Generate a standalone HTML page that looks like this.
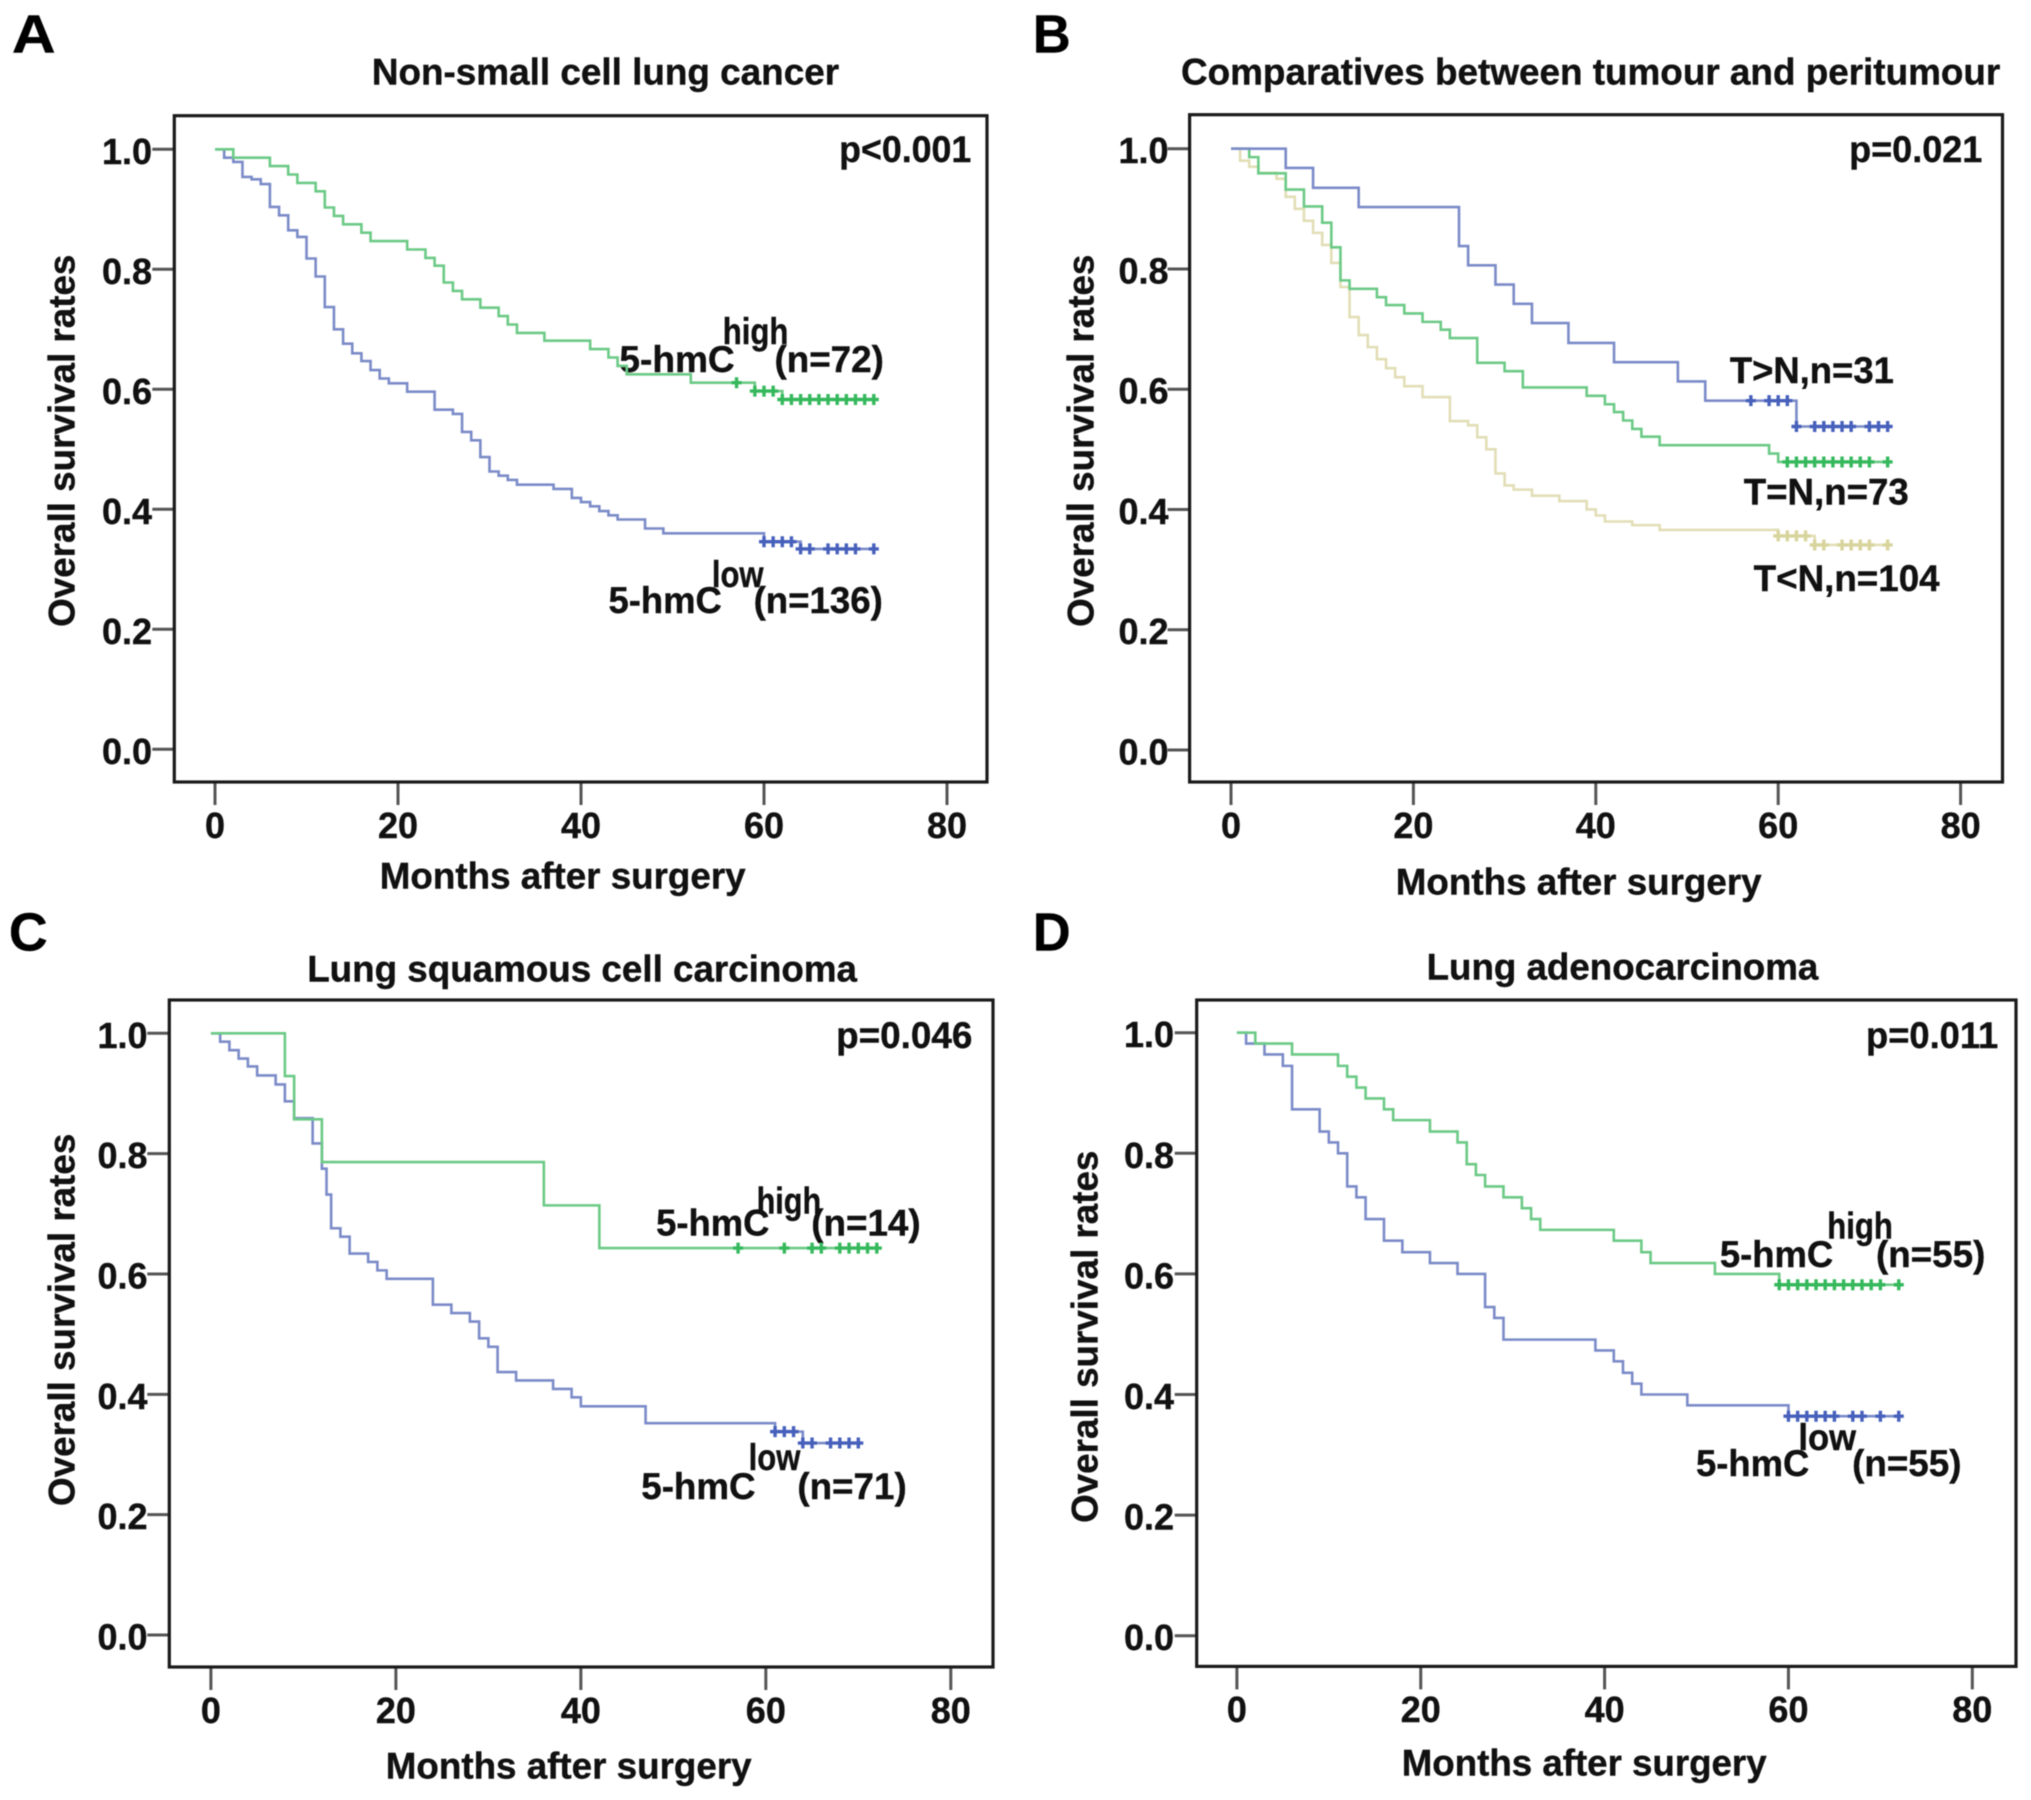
<!DOCTYPE html>
<html lang="en">
<head>
<meta charset="utf-8">
<title>Kaplan-Meier survival curves</title>
<style>
html,body{margin:0;padding:0;background:#fff;}
svg{display:block;filter:blur(0.6px);}
text{font-family:"Liberation Sans",Arial,sans-serif;font-weight:bold;fill:#111;stroke:#111;stroke-width:.4px;font-size:37px;}
.pl{font-size:54px;fill:#000;}
.tick-label{font-size:36px;}
</style>
</head>
<body>
<svg id="figure" xmlns="http://www.w3.org/2000/svg" width="2031" height="1800" viewBox="0 0 2031 1800">
<rect width="2031" height="1800" fill="#fff"/>

<g id="panel-a" transform="scale(.9942,.9949)">
<text class="pl" x="12" y="53" textLength="44" lengthAdjust="spacingAndGlyphs">A</text>
<text x="374" y="85" textLength="470" lengthAdjust="spacingAndGlyphs">Non-small cell lung cancer</text>
<text x="844" y="163" textLength="133" lengthAdjust="spacingAndGlyphs">p&lt;0.001</text>
<text transform="translate(75,443) rotate(-90)" text-anchor="middle">Overall survival rates</text>
<text x="382" y="893" textLength="368" lengthAdjust="spacingAndGlyphs">Months after surgery</text>
<text x="623" y="374" textLength="116" lengthAdjust="spacingAndGlyphs">5-hmC</text>
<text x="727" y="346" textLength="66" lengthAdjust="spacingAndGlyphs">high</text>
<text x="779" y="374" textLength="110" lengthAdjust="spacingAndGlyphs">(n=72)</text>
<text x="612" y="616" textLength="114" lengthAdjust="spacingAndGlyphs">5-hmC</text>
<text x="716" y="590" textLength="52" lengthAdjust="spacingAndGlyphs">low</text>
<text x="758" y="616" textLength="130" lengthAdjust="spacingAndGlyphs">(n=136)</text>
</g>

<g id="panel-b" transform="translate(5.89,0) scale(.9942,.9949)">
<text class="pl" x="1033" y="53" textLength="38" lengthAdjust="spacingAndGlyphs">B</text>
<text x="1182" y="85" textLength="824" lengthAdjust="spacingAndGlyphs">Comparatives between tumour and peritumour</text>
<text x="1854" y="163" textLength="134" lengthAdjust="spacingAndGlyphs">p=0.021</text>
<text transform="translate(1094,443) rotate(-90)" text-anchor="middle">Overall survival rates</text>
<text x="1398" y="899" textLength="368" lengthAdjust="spacingAndGlyphs">Months after surgery</text>
<text x="1734" y="385" textLength="165" lengthAdjust="spacingAndGlyphs">T&gt;N,n=31</text>
<text x="1748" y="507" textLength="166" lengthAdjust="spacingAndGlyphs">T=N,n=73</text>
<text x="1758" y="594" textLength="187" lengthAdjust="spacingAndGlyphs">T&lt;N,n=104</text>
</g>

<g id="panel-c" transform="translate(0,4.59) scale(.9942,.9949)">
<text class="pl" x="9" y="951" textLength="39" lengthAdjust="spacingAndGlyphs">C</text>
<text x="309" y="982" textLength="553" lengthAdjust="spacingAndGlyphs">Lung squamous cell carcinoma</text>
<text x="841" y="1049" textLength="137" lengthAdjust="spacingAndGlyphs">p=0.046</text>
<text transform="translate(75,1322) rotate(-90)" text-anchor="middle">Overall survival rates</text>
<text x="388" y="1783" textLength="368" lengthAdjust="spacingAndGlyphs">Months after surgery</text>
<text x="660" y="1237" textLength="114" lengthAdjust="spacingAndGlyphs">5-hmC</text>
<text x="761" y="1215" textLength="65" lengthAdjust="spacingAndGlyphs">high</text>
<text x="816" y="1237" textLength="110" lengthAdjust="spacingAndGlyphs">(n=14)</text>
<text x="645" y="1502" textLength="115" lengthAdjust="spacingAndGlyphs">5-hmC</text>
<text x="753" y="1473" textLength="52" lengthAdjust="spacingAndGlyphs">low</text>
<text x="802" y="1502" textLength="110" lengthAdjust="spacingAndGlyphs">(n=71)</text>
</g>

<g id="panel-d" transform="translate(5.89,4.59) scale(.9942,.9949)">
<text class="pl" x="1033" y="951" textLength="38" lengthAdjust="spacingAndGlyphs">D</text>
<text x="1429" y="980" textLength="394" lengthAdjust="spacingAndGlyphs">Lung adenocarcinoma</text>
<text x="1871" y="1049" textLength="133" lengthAdjust="spacingAndGlyphs">p=0.011</text>
<text transform="translate(1098,1339) rotate(-90)" text-anchor="middle">Overall survival rates</text>
<text x="1404" y="1780" textLength="367" lengthAdjust="spacingAndGlyphs">Months after surgery</text>
<text x="1724" y="1269" textLength="114" lengthAdjust="spacingAndGlyphs">5-hmC</text>
<text x="1832" y="1240" textLength="66" lengthAdjust="spacingAndGlyphs">high</text>
<text x="1881" y="1269" textLength="110" lengthAdjust="spacingAndGlyphs">(n=55)</text>
<text x="1700" y="1479" textLength="114" lengthAdjust="spacingAndGlyphs">5-hmC</text>
<text x="1803" y="1453" textLength="58" lengthAdjust="spacingAndGlyphs">low</text>
<text x="1857" y="1479" textLength="110" lengthAdjust="spacingAndGlyphs">(n=55)</text>
</g>
</svg>

<script>
// Axis tick labels
const xTickValues = [0, 20, 40, 60, 80];
const yTickValues = [0.0, 0.2, 0.4, 0.6, 0.8, 1.0];

// Panel A
const aHighMonths = [0,2,6,8,9,11,12,13,14,16,17,21,23,24,25,26,27,29,31,32,33,36,41,43,44,45,52,59,62,72];
const aHighSurvival = [1,.986,.972,.958,.944,.93,.903,.889,.875,.861,.847,.833,.819,.806,.778,.764,.75,.736,.722,.708,.694,.681,.667,.653,.639,.625,.611,.597,.583,.583];
const aHighCensored = [57,59,60,61,62,63,64,65,66,67,68,69,70,71,72];
const aLowMonths = [0,1,2,3,4,5,6,7,8,9,10,11,12,13,14,15,16,17,18,19,21,24,26,27,28,29,30,31,32,33,37,39,40,41,42,43,44,47,49,60,64,72];
const aLowSurvival = [1,.986,.979,.954,.95,.942,.904,.89,.865,.854,.818,.788,.737,.7,.676,.66,.647,.632,.618,.61,.596,.566,.559,.529,.515,.487,.463,.456,.449,.441,.434,.419,.412,.405,.397,.39,.383,.368,.36,.346,.334,.334];
const aLowCensored = [60,61,62,63,64,65,67,68,69,70,72];

// Panel B
const bGreaterMonths = [0,6,9,14,25,26,29,31,33,37,42,49,52,62,72];
const bGreaterSurvival = [1,.968,.935,.903,.838,.806,.774,.742,.71,.677,.645,.613,.581,.538,.538];
const bGreaterCensored = [57,59,60,61,62,64,65,66,67,68,70,71,72];
const bEqualMonths = [0,2,3,6,8,10,11,12,13,16,17,19,21,23,24,27,30,32,39,41,42,43,44,45,47,59,60,72];
const bEqualSurvival = [1,.986,.959,.932,.904,.877,.836,.781,.767,.753,.74,.726,.712,.699,.685,.644,.63,.603,.589,.575,.562,.548,.534,.521,.507,.493,.479,.479];
const bEqualCensored = [61,62,63,64,65,66,67,68,69,70,72];
const bLessMonths = [0,1,2,3,5,6,7,8,9,10,11,12,13,14,15,16,17,18,19,21,24,26,27,28,29,30,31,33,36,39,40,41,44,47,60,64,72];
const bLessSurvival = [1,.98,.97,.96,.95,.92,.9,.88,.86,.84,.81,.77,.72,.69,.67,.65,.635,.62,.605,.587,.547,.54,.52,.5,.46,.44,.433,.423,.414,.4,.39,.38,.374,.366,.356,.341,.341];
const bLessCensored = [60,61,62,63,64,65,67,68,69,70,72];

// Panel C
const cHighMonths = [0,8,9,12,36,42,72];
const cHighSurvival = [1,.929,.857,.786,.714,.643,.643];
const cHighCensored = [57,62,65,66,68,69,70,71,72];
const cLowMonths = [0,1,2,3,4,5,7,8,9,11,12,12.5,13,14,15,17,18,19,24,26,28,29,30,31,33,37,39,40,47,61,64,70];
const cLowSurvival = [1,.986,.972,.958,.945,.93,.915,.887,.859,.817,.775,.732,.676,.662,.634,.62,.606,.592,.549,.535,.521,.493,.479,.437,.423,.409,.395,.38,.352,.338,.319,.319];
const cLowCensored = [61,62,63,64,65,67,68,69,70];

// Panel D
const dHighMonths = [0,2,6,11,12,13,14,16,17,21,24,25,26,27,29,31,32,33,41,44,45,52,59,72];
const dHighSurvival = [1,.982,.964,.945,.927,.909,.891,.873,.855,.836,.818,.782,.764,.745,.727,.709,.691,.673,.655,.636,.618,.6,.582,.582];
const dHighCensored = [59,60,61,62,63,64,65,66,67,68,69,70,72];
const dLowMonths = [0,1,3,5,6,9,10,11,12,13,14,16,18,21,24,27,28,29,39,41,42,43,44,49,60,72];
const dLowSurvival = [1,.982,.964,.945,.873,.836,.818,.8,.745,.727,.691,.655,.636,.618,.6,.545,.527,.491,.473,.455,.436,.418,.4,.382,.364,.364];
const dLowCensored = [60,61,62,63,64,65,67,68,70,72];

const GREEN = '#6cca86';
const GREEN_MARK = '#35b85c';
const BLUE = '#7b8bc8';
const BLUE_MARK = '#4660bb';
const TAN = '#e2deb6';
const TAN_MARK = '#d8d49c';

const panels = [
  { id:'a', frame:[174.3,115.7,987,782], x0:215, x80:947, y1:149.3, y0:749.3, yLabelX:152, xLabelY:838,
    series:[
      {name:'low', m:aLowMonths, s:aLowSurvival, c:aLowCensored, color:BLUE, mark:BLUE_MARK},
      {name:'high', m:aHighMonths, s:aHighSurvival, c:aHighCensored, color:GREEN, mark:GREEN_MARK}
    ]},
  { id:'b', frame:[1189.6,114.7,2002.5,782], x0:1231, x80:1960.6, y1:148.7, y0:750, yLabelX:1168.5, xLabelY:838,
    series:[
      {name:'t-less-n', m:bLessMonths, s:bLessSurvival, c:bLessCensored, color:TAN, mark:TAN_MARK},
      {name:'t-equal-n', m:bEqualMonths, s:bEqualSurvival, c:bEqualCensored, color:GREEN, mark:GREEN_MARK},
      {name:'t-greater-n', m:bGreaterMonths, s:bGreaterSurvival, c:bGreaterCensored, color:BLUE, mark:BLUE_MARK}
    ]},
  { id:'c', frame:[169.3,1000,993,1667], x0:210.9, x80:950.8, y1:1033.3, y0:1635, yLabelX:147.5, xLabelY:1723,
    series:[
      {name:'low', m:cLowMonths, s:cLowSurvival, c:cLowCensored, color:BLUE, mark:BLUE_MARK},
      {name:'high', m:cHighMonths, s:cHighSurvival, c:cHighCensored, color:GREEN, mark:GREEN_MARK}
    ]},
  { id:'d', frame:[1196.7,1000,2016,1666.4], x0:1236.9, x80:1972.3, y1:1032.7, y0:1635.7, yLabelX:1174, xLabelY:1722,
    series:[
      {name:'low', m:dLowMonths, s:dLowSurvival, c:dLowCensored, color:BLUE, mark:BLUE_MARK},
      {name:'high', m:dHighMonths, s:dHighSurvival, c:dHighCensored, color:GREEN, mark:GREEN_MARK}
    ]}
];

const NS = 'http://www.w3.org/2000/svg';
const figure = document.getElementById('figure');

function make(tag, attrs, parent) {
  const el = document.createElementNS(NS, tag);
  for (const k in attrs) el.setAttribute(k, attrs[k]);
  parent.appendChild(el);
  return el;
}

function survivalAt(months, survival, t) {
  let v = survival[0];
  for (let i = 0; i < months.length; i++) {
    if (months[i] <= t) v = survival[i];
  }
  return v;
}

panels.forEach(function (p) {
  const group = make('g', {id:'plot-' + p.id}, figure);
  
  
  const xScale = function (m) { return p.x0 + (p.x80 - p.x0) * m / 80; };
  const yScale = function (v) { return p.y0 + (p.y1 - p.y0) * v; };
  const f = p.frame;

  xTickValues.forEach(function (t) {
    const tick = make('line', {x1:xScale(t), x2:xScale(t), y1:f[3], y2:f[3] + 23, stroke:'#555', 'stroke-width':3}, group);
    
    
    const lab = make('text', {class:'tick-label', x:xScale(t), y:p.xLabelY, 'text-anchor':'middle'}, group);
    lab.textContent = String(t);
    
    
  });

  yTickValues.forEach(function (v) {
    const tick = make('line', {x1:f[0] - 22, x2:f[0], y1:yScale(v), y2:yScale(v), stroke:'#555', 'stroke-width':3}, group);
    
    
    const lab = make('text', {class:'tick-label', x:p.yLabelX, y:yScale(v) + 14.5, 'text-anchor':'end'}, group);
    lab.textContent = v.toFixed(1);
    
    
  });

  p.series.forEach(function (s) {
    let d = 'M' + xScale(s.m[0]) + ' ' + yScale(s.s[0]);
    for (let i = 1; i < s.m.length; i++) {
      d += 'H' + xScale(s.m[i]) + 'V' + yScale(s.s[i]);
    }
    const line = make('path', {d:d, fill:'none', stroke:s.color, 'stroke-width':2.6}, group);
    
    
    s.c.forEach(function (t) {
      const cx = xScale(t);
      const cy = yScale(survivalAt(s.m, s.s, t));
      const mark = make('path', {d:'M' + (cx - 5) + ' ' + cy + 'H' + (cx + 5) + 'M' + cx + ' ' + (cy - 5.5) + 'V' + (cy + 5.5), fill:'none', stroke:s.mark, 'stroke-width':3.4}, group);
      
      
    });
  });

  const frame = make('rect', {x:f[0], y:f[1], width:f[2] - f[0], height:f[3] - f[1], fill:'none', stroke:'#1a1a1a', 'stroke-width':3.2}, group);
  
  
});
</script>
</body>
</html>
